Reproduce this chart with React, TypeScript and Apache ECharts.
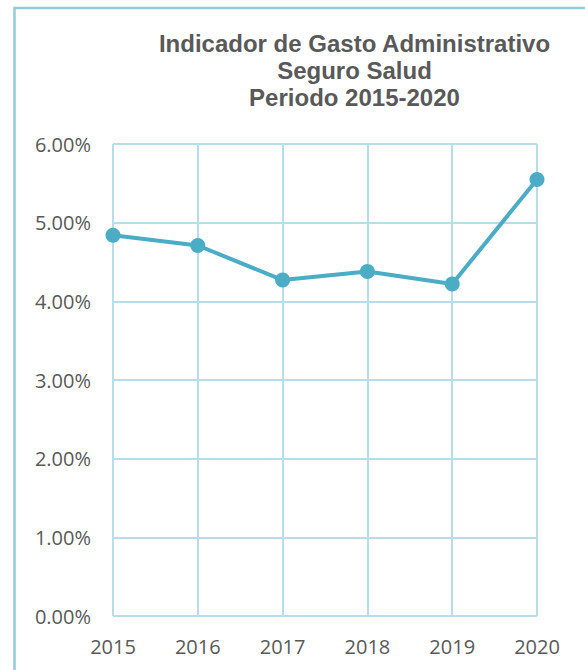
import React, { useEffect, useRef } from "react";
import * as echarts from "echarts";

const years = ["2015", "2016", "2017", "2018", "2019", "2020"];
const gastoPct = [4.84, 4.71, 4.27, 4.38, 4.22, 5.55];
const titleLines = ["Indicador de Gasto Administrativo", "Seguro Salud", "Periodo 2015-2020"];
const yMin = 0;
const yMax = 6;
const yStep = 1;

export default function App() {
  const ref = useRef<HTMLDivElement>(null);
  useEffect(() => {
    if (!ref.current) return;
    const chart = echarts.init(ref.current, null, { renderer: "svg" });
    const gridColor = "#b7dee8";
    chart.setOption({
      animation: false,
      backgroundColor: "#ffffff",
      graphic: [
        {
          type: "rect",
          shape: { x: 14.5, y: 8, width: 640, height: 720 },
          style: { fill: "none", stroke: "#93cddd", lineWidth: 2.5 },
          z: 0,
        },
        {
          type: "text",
          x: 354.5,
          y: 30,
          style: {
            text: titleLines.join("\n"),
            textAlign: "center",
            textVerticalAlign: "top",
            fontFamily: "Liberation Sans, Arial, sans-serif",
            fontWeight: "bold",
            fontSize: 24,
            lineHeight: 27,
            fill: "#595959",
          },
        },
      ],
      grid: {
        left: 113,
        right: 48,
        top: 144,
        bottom: 54,
        outerBoundsMode: "none",
        containLabel: false,
      },
      xAxis: {
        type: "category",
        data: years,
        boundaryGap: false,
        axisLine: { show: false },
        axisTick: { show: false },
        splitLine: { show: true, lineStyle: { color: gridColor, width: 2 } },
        axisLabel: {
          margin: 20,
          color: "#595959",
          fontFamily: "Open Sans",
          fontSize: 20,
          interval: 0,
        },
      },
      yAxis: {
        type: "value",
        min: yMin,
        max: yMax,
        interval: yStep,
        axisLine: { show: false },
        axisTick: { show: false },
        splitLine: { show: true, lineStyle: { color: gridColor, width: 2 } },
        axisLabel: {
          margin: 22,
          color: "#595959",
          fontFamily: "Open Sans",
          fontSize: 20,
          formatter: (v: number) => v.toFixed(2) + "%",
        },
      },
      series: [
        {
          type: "line",
          data: gastoPct,
          symbol: "circle",
          symbolSize: 15,
          lineStyle: { color: "#4bacc6", width: 4 },
          itemStyle: { color: "#4bacc6" },
          z: 5,
        },
      ],
    });
    return () => chart.dispose();
  }, []);
  return (
    <div
      ref={ref}
      style={{ position: "absolute", left: 0, top: 0, width: 585, height: 670 }}
    />
  );
}
